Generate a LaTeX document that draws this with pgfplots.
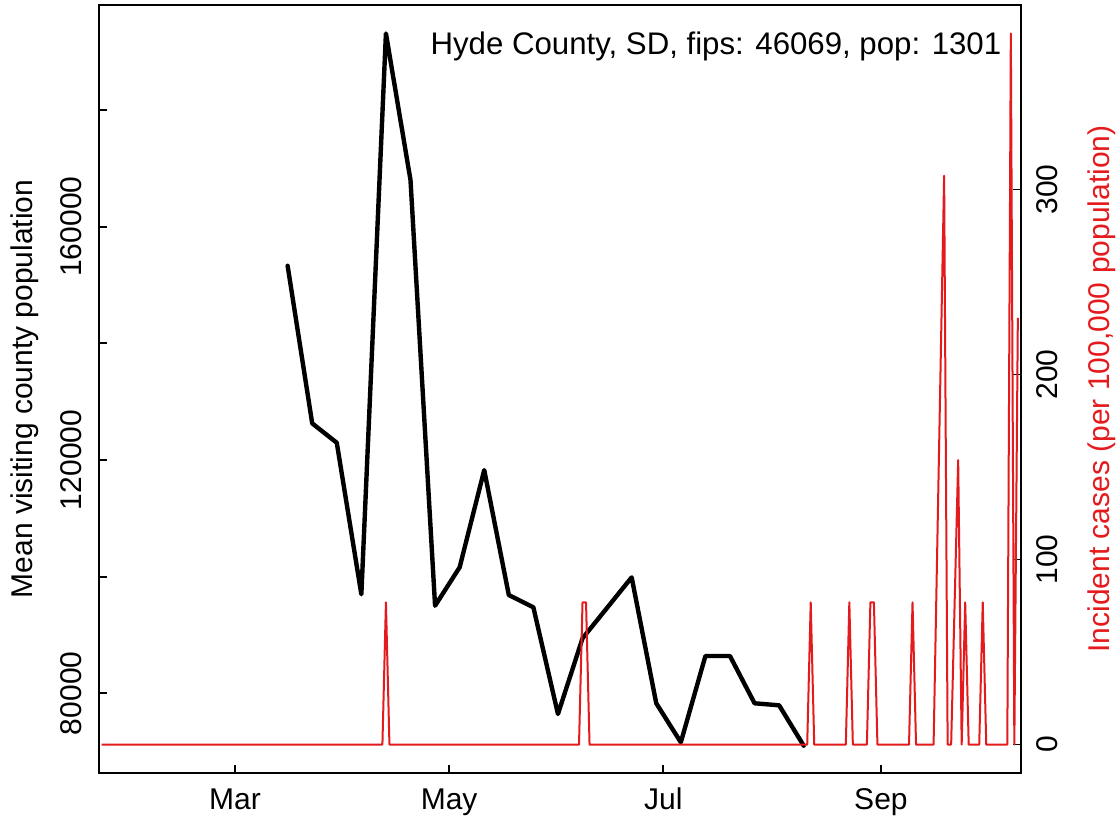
\documentclass[border=0pt]{standalone}
\usepackage{fontspec}
\setmainfont{Liberation Sans}
\usepackage{pgfplots}
\pgfplotsset{compat=1.18}
\definecolor{cred}{HTML}{E41A1C}

\begin{document}
\begin{tikzpicture}[font=\fontsize{15}{18}\selectfont]
\path[use as bounding box] (-49.5pt,-24.5pt) rectangle (510pt,386.5pt);
\begin{axis}[
  scale only axis, width=461pt, height=384pt,
  xmin=21.27, xmax=283.9, ymin=66340, ymax=198000,
  scaled y ticks=false, scaled x ticks=false,
  axis line style={line width=1pt},
  every tick/.style={black, line width=0.9pt},
  major tick length=4pt,
  tick align=inside,
  xtick pos=bottom, ytick pos=left,
  xtick={60,121,182,244}, xticklabels={Mar,May,Jul,Sep},
  ytick={80000,100000,120000,140000,160000,180000},
  yticklabels={80000,,120000,,160000,},
  xticklabel style={anchor=base, inner sep=0pt},
  xticklabel shift=18.5pt,
  yticklabel style={rotate=90, anchor=base, inner sep=0pt},
  yticklabel shift=8.5pt,
  ylabel={Mean visiting county population},
  ylabel style={at={(axis description cs:-0.0723,0.5)}, rotate=0, anchor=base, inner sep=0pt},
]
\addplot[black, line width=2.2pt, line join=round, line cap=round] coordinates {
(75,153290) (82,126280) (89,122950) (96,96970) (103,193120) (110,167980)
(117,95015) (124,101600) (131,118270) (138,96850) (145,94740) (152,76450)
(159,89430) (173,99880) (180,78290) (187,71600) (194,86390) (201,86390)
(208,78290) (215,77940) (222,71020)
};
\node[anchor=base east, inner sep=0pt, font=\fontsize{15.6}{18}\selectfont] at (axis description cs:0.979,0.935) {Hyde County, SD, fips: 46069, pop: 1301};
\end{axis}
\begin{axis}[
  scale only axis, width=461pt, height=384pt,
  xmin=21.27, xmax=283.9, ymin=-15.37, ymax=399.7,
  scaled y ticks=false,
  axis x line=none, axis y line*=right,
  axis line style={line width=1pt},
  every tick/.style={black, line width=0.9pt},
  major tick length=4pt,
  tick align=inside,
  ytick={0,100,200,300}, yticklabels={0,100,200,300},
  yticklabel style={rotate=90, anchor=base, inner sep=0pt},
  yticklabel shift=18pt,
  ylabel={Incident cases (per 100,000 population)},
  ylabel style={at={(axis description cs:1.0965,0.5)}, rotate=0, anchor=base, inner sep=0pt, text=cred},
]
\addplot[cred, line width=1pt, line join=round] coordinates {
(22,0) (102,0) (103,76.86) (104,0) (158,0) (159,76.86) (160,76.86) (161,0)
(223,0) (224,76.86) (225,0) (234,0) (235,76.86) (236,0) (240,0) (241,76.86)
(242,76.86) (243,0) (252,0) (253,76.86) (254,0) (259,0) (262,307.4) (263,0)
(264,0) (266,153.7) (267,0) (268,76.86) (269,0) (272,0) (273,76.86) (274,0)
(280,0) (281,384.3) (282,0) (283,230.6)
};
\end{axis}
\end{tikzpicture}
\end{document}
